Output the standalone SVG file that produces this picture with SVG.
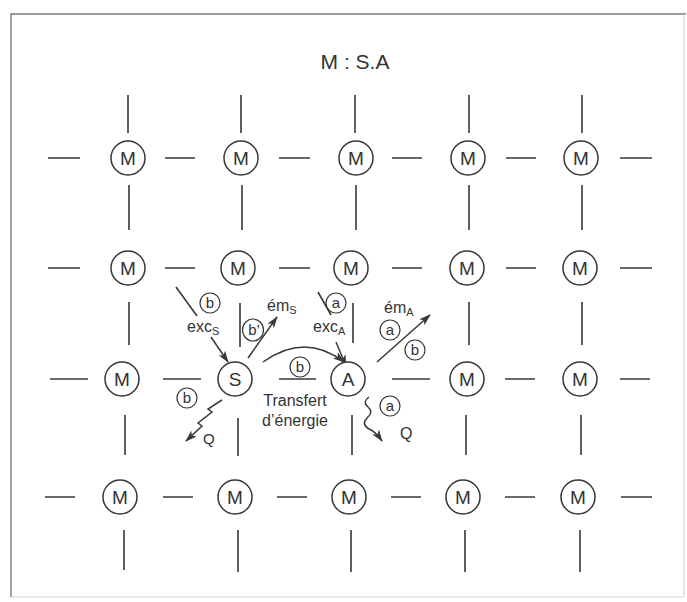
<svg xmlns="http://www.w3.org/2000/svg" width="687" height="602" viewBox="0 0 687 602">
<defs>
<style>
.ln{stroke:#383838;stroke-width:1.6;fill:none}
.fr{stroke:#7a7a7a;stroke-width:1.4;fill:none}
.nc{fill:#fff;stroke:#383838;stroke-width:1.5}
.nt{font-family:"Liberation Sans",Arial,sans-serif;font-size:19px;fill:#333;text-anchor:middle}
.lc{fill:none;stroke:#383838;stroke-width:1.2}
.lt{font-family:"Liberation Sans",Arial,sans-serif;font-size:15px;fill:#333;text-anchor:middle}
.tx{font-family:"Liberation Sans",Arial,sans-serif;font-size:16px;fill:#333}
.sub{font-size:11px}
.ar{stroke:#383838;stroke-width:1.5;fill:none;marker-end:url(#ah)}
</style>
<marker id="ah" viewBox="0 0 12 8" refX="11" refY="4" markerWidth="12" markerHeight="8" markerUnits="userSpaceOnUse" orient="auto">
<path d="M0,0 L12,4 L0,8 L3,4 Z" fill="#383838"/>
</marker>
</defs>
<rect width="687" height="602" fill="#fff"/>
<g id="frame">
<path class="fr" d="M11,597 L11,14 L686,14"/>
<path d="M684,14 L684,597 M11,597 L684,597" stroke="#d8d8d8" stroke-width="1.2" fill="none"/>
</g>
<g id="title"><text class="tx" x="355" y="69" text-anchor="middle" style="font-size:21px">M : S.A</text></g>
<g id="connectors">
<path class="ln" d="M128,95V133 M241,95V133 M355,95V133 M469,95V133 M582,95V133"/>
<path class="ln" d="M48,158H80 M165,158H195 M279,158H310 M392,158H422 M506,158H536 M620,158H652"/>
<path class="ln" d="M129,185V230 M242,185V230 M356,185V230 M469,185V230 M582,185V230"/>
<path class="ln" d="M48,268H80 M165,268H195 M279,268H310 M392,268H422 M506,268H536 M620,268H652"/>
<path class="ln" d="M129,302V345 M240,303V347 M353,303V343 M469,302V345 M582,302V345"/>
<path class="ln" d="M50,379H88 M163,379H201 M279,379H316 M392,379H430 M505,379H535 M620,379H650"/>
<path class="ln" d="M125,415V455 M238,418V456 M352,415V455 M466,415V455 M581,415V455"/>
<path class="ln" d="M45,497H75 M163,497H193 M277,497H307 M391,497H421 M505,497H535 M621,497H652"/>
<path class="ln" d="M124,530V570 M238,530V572 M351,530V572 M465,530V572 M580,530V572"/>
<path class="ln" d="M176,287L197,316"/>
<path class="ar" d="M211,337L228,362"/>
<path class="ar" d="M248,358L277,317"/>
<path class="ar" d="M263,362Q305,332 344,362"/>
<path class="ar" d="M222,400L208,409L212,412L198,423L202,426L186,441"/>
<path class="ln" d="M318,292L331,315"/>
<path class="ar" d="M336,342L346,366"/>
<path class="ar" d="M377,362L430,315"/>
<path class="ar" d="M369,397q-7,5 -1,10q6,5 -1,11q-6,6 2,11q6,2 13,12"/>
</g>
<g id="labels">
<g><circle class="lc" cx="210" cy="303" r="10"/><text class="lt" x="210" y="308">b</text></g>
<text class="tx" x="187" y="332">exc<tspan class="sub" dy="3">S</tspan></text>
<g><ellipse class="lc" cx="253" cy="330" rx="10.5" ry="11"/><text class="lt" x="254" y="335">b’</text></g>
<text class="tx" x="267" y="311">ém<tspan class="sub" dy="3">S</tspan></text>
<g><circle class="lc" cx="300" cy="367" r="10"/><text class="lt" x="300" y="372">b</text></g>
<g><circle class="lc" cx="187" cy="398" r="10"/><text class="lt" x="187" y="403">b</text></g>
<text class="tx" x="203" y="444" style="font-size:15px">Q</text>
<text class="tx" x="295" y="406" text-anchor="middle">Transfert</text>
<text class="tx" x="295" y="426" text-anchor="middle">d’énergie</text>
<g><circle class="lc" cx="336" cy="303" r="10"/><text class="lt" x="336" y="308">a</text></g>
<text class="tx" x="313" y="332">exc<tspan class="sub" dy="3">A</tspan></text>
<text class="tx" x="384" y="313">ém<tspan class="sub" dy="3">A</tspan></text>
<g><circle class="lc" cx="390" cy="330" r="10"/><text class="lt" x="390" y="335">a</text></g>
<g><circle class="lc" cx="415" cy="350" r="10"/><text class="lt" x="415" y="355">b</text></g>
<g><circle class="lc" cx="390" cy="406" r="10"/><text class="lt" x="390" y="411">a</text></g>
<text class="tx" x="400" y="439" style="font-size:16px">Q</text>
</g>
<g id="n11"><circle class="nc" cx="128" cy="158" r="17"/><text class="nt" x="128" y="165">M</text></g>
<g id="n12"><circle class="nc" cx="241" cy="158" r="17"/><text class="nt" x="241" y="165">M</text></g>
<g id="n13"><circle class="nc" cx="356" cy="158" r="17"/><text class="nt" x="356" y="165">M</text></g>
<g id="n14"><circle class="nc" cx="468" cy="158" r="17"/><text class="nt" x="468" y="165">M</text></g>
<g id="n15"><circle class="nc" cx="581" cy="158" r="17"/><text class="nt" x="581" y="165">M</text></g>
<g id="n21"><circle class="nc" cx="128" cy="268" r="17"/><text class="nt" x="128" y="275">M</text></g>
<g id="n22"><circle class="nc" cx="238" cy="268" r="17"/><text class="nt" x="238" y="275">M</text></g>
<g id="n23"><circle class="nc" cx="351" cy="268" r="17"/><text class="nt" x="351" y="275">M</text></g>
<g id="n24"><circle class="nc" cx="467" cy="268" r="17"/><text class="nt" x="467" y="275">M</text></g>
<g id="n25"><circle class="nc" cx="580" cy="268" r="17"/><text class="nt" x="580" y="275">M</text></g>
<g id="n31"><circle class="nc" cx="122" cy="379" r="17"/><text class="nt" x="122" y="386">M</text></g>
<g id="S"><circle class="nc" cx="235" cy="379" r="17"/><text class="nt" x="235" y="386">S</text></g>
<g id="A"><circle class="nc" cx="348" cy="379" r="17"/><text class="nt" x="348" y="386">A</text></g>
<g id="n34"><circle class="nc" cx="467" cy="379" r="17"/><text class="nt" x="467" y="386">M</text></g>
<g id="n35"><circle class="nc" cx="580" cy="379" r="17"/><text class="nt" x="580" y="386">M</text></g>
<g id="n41"><circle class="nc" cx="120" cy="497" r="17"/><text class="nt" x="120" y="504">M</text></g>
<g id="n42"><circle class="nc" cx="235" cy="497" r="17"/><text class="nt" x="235" y="504">M</text></g>
<g id="n43"><circle class="nc" cx="349" cy="497" r="17"/><text class="nt" x="349" y="504">M</text></g>
<g id="n44"><circle class="nc" cx="463" cy="497" r="17"/><text class="nt" x="463" y="504">M</text></g>
<g id="n45"><circle class="nc" cx="578" cy="497" r="17"/><text class="nt" x="578" y="504">M</text></g>
</svg>
